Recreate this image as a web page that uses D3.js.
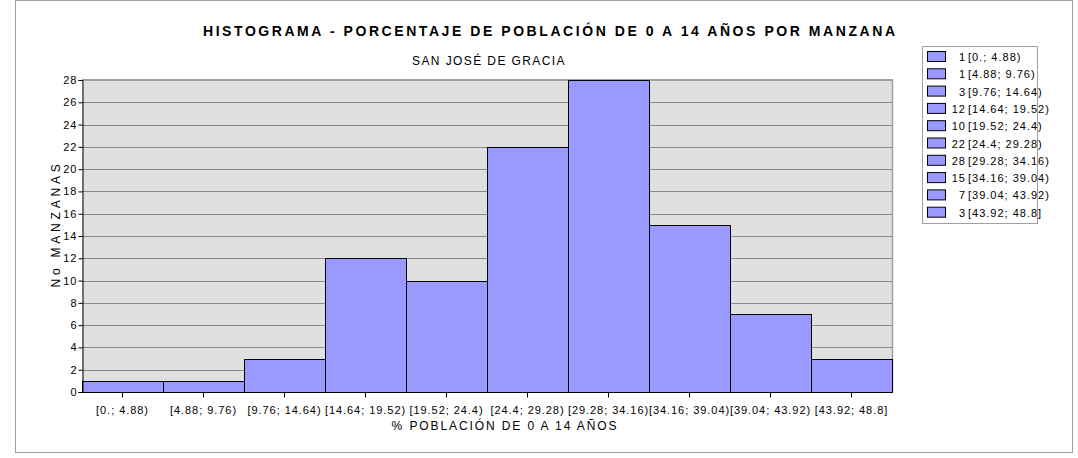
<!DOCTYPE html>
<html>
<head>
<meta charset="utf-8">
<script src="https://cdn.jsdelivr.net/npm/d3@7"></script>
<style>
  body { margin: 0; background: #fff; }
  svg text { font-family: "Liberation Sans", Arial, sans-serif; fill: #000; }
</style>
</head>
<body>
<div id="chart"></div>
<script>
// data
var bins = ["[0.; 4.88)", "[4.88; 9.76)", "[9.76; 14.64)", "[14.64; 19.52)", "[19.52; 24.4)",
            "[24.4; 29.28)", "[29.28; 34.16)", "[34.16; 39.04)", "[39.04; 43.92)", "[43.92; 48.8]"];
var counts = [1, 1, 3, 12, 10, 22, 28, 15, 7, 3];
var yTicks = [0, 2, 4, 6, 8, 10, 12, 14, 16, 18, 20, 22, 24, 26, 28];

var width = 1078, height = 458;
var plotLeft = 82, plotRight = 892, plotTop = 80, plotBottom = 392;

var svg = d3.select("#chart").append("svg")
  .attr("width", width)
  .attr("height", height);

// outer frame
svg.append("rect")
  .attr("x", 15.5).attr("y", 0.5)
  .attr("width", 1057).attr("height", 452)
  .attr("fill", "#fff")
  .attr("stroke", "#a0a0a0");

var x = d3.scaleBand().domain(bins).range([plotLeft, plotRight]).padding(0);
var y = d3.scaleLinear().domain([0, 28]).range([plotBottom, plotTop]);

// plot background
svg.append("rect")
  .attr("x", plotLeft).attr("y", plotTop)
  .attr("width", plotRight - plotLeft).attr("height", plotBottom - plotTop)
  .attr("fill", "#e0e0e0");

// grid lines
svg.append("g").selectAll("line")
  .data(yTicks.filter(function(d) { return d > 0 && d < 28; }))
  .enter().append("line")
  .attr("x1", plotLeft).attr("x2", plotRight)
  .attr("y1", function(d) { return Math.round(y(d)) + 0.5; })
  .attr("y2", function(d) { return Math.round(y(d)) + 0.5; })
  .attr("stroke", "#888");

// top + right border of plot
svg.append("line")
  .attr("x1", plotLeft).attr("x2", plotRight + 1)
  .attr("y1", plotTop).attr("y2", plotTop)
  .attr("stroke", "#a0a0a0").attr("stroke-width", 2);
svg.append("line")
  .attr("x1", plotRight + 0.5).attr("x2", plotRight + 0.5)
  .attr("y1", plotTop).attr("y2", plotBottom)
  .attr("stroke", "#a0a0a0").attr("stroke-width", 1.5);

// bars
svg.append("g").selectAll("rect")
  .data(counts)
  .enter().append("rect")
  .attr("x", function(d, i) { return Math.round(x(bins[i])) + 0.5; })
  .attr("y", function(d) { return Math.round(y(d)) + 0.5; })
  .attr("width", x.bandwidth())
  .attr("height", function(d) { return Math.round(plotBottom - y(d)); })
  .attr("fill", "#9999ff")
  .attr("stroke", "#000");

// y axis
var yAxis = d3.axisLeft(y).tickValues(yTicks).tickSize(4).tickPadding(1);
var gy = svg.append("g")
  .attr("transform", "translate(" + (plotLeft + 0.5) + ",0)")
  .call(yAxis);
gy.selectAll("text")
  .style("font-size", "11px")
  .style("letter-spacing", "1px");

// x axis
var xAxis = d3.axisBottom(x).tickSize(5).tickPadding(9);
var gx = svg.append("g")
  .attr("transform", "translate(0," + (plotBottom + 0.5) + ")")
  .call(xAxis);
gx.select(".domain").remove();
gx.append("line")
  .attr("x1", plotLeft).attr("x2", plotRight).attr("stroke", "#000");
gx.selectAll("text")
  .style("font-size", "11px")
  .style("letter-spacing", "0.95px");

// titles
svg.append("text")
  .attr("x", 549).attr("y", 36)
  .attr("text-anchor", "middle")
  .style("font-size", "14px")
  .style("font-weight", "bold")
  .attr("textLength", 692)
  .attr("lengthAdjust", "spacing")
  .text("HISTOGRAMA - PORCENTAJE DE POBLACIÓN DE 0 A 14 AÑOS POR MANZANA");

svg.append("text")
  .attr("x", 489).attr("y", 65)
  .attr("text-anchor", "middle")
  .style("font-size", "12px")
  .style("letter-spacing", "1.4px")
  .text("SAN JOSÉ DE GRACIA");

svg.append("text")
  .attr("x", 505).attr("y", 430)
  .attr("text-anchor", "middle")
  .style("font-size", "12px")
  .style("letter-spacing", "1.9px")
  .text("% POBLACIÓN DE 0 A 14 AÑOS");

svg.append("text")
  .attr("transform", "translate(60,224) rotate(-90)")
  .attr("text-anchor", "middle")
  .style("font-size", "12px")
  .style("letter-spacing", "3.8px")
  .text("No MANZANAS");

// legend
var legend = svg.append("g");
legend.append("rect")
  .attr("x", 922.5).attr("y", 46.5)
  .attr("width", 115).attr("height", 177)
  .attr("fill", "#fff")
  .attr("stroke", "#a0a0a0");

var rows = legend.selectAll("g.row")
  .data(counts)
  .enter().append("g")
  .attr("class", "row")
  .attr("transform", function(d, i) { return "translate(0," + (57 + i * 17.3) + ")"; });
rows.append("rect")
  .attr("x", 927.5).attr("y", -5.5)
  .attr("width", 18).attr("height", 10)
  .attr("fill", "#9999ff")
  .attr("stroke", "#000");
rows.append("text")
  .attr("x", 966).attr("y", 4)
  .attr("text-anchor", "end")
  .style("font-size", "11px")
  .style("letter-spacing", "1px")
  .text(function(d) { return d; });
rows.append("text")
  .attr("x", 968).attr("y", 4)
  .style("font-size", "11px")
  .style("letter-spacing", "1px")
  .text(function(d, i) { return bins[i]; });
</script>
</body>
</html>
